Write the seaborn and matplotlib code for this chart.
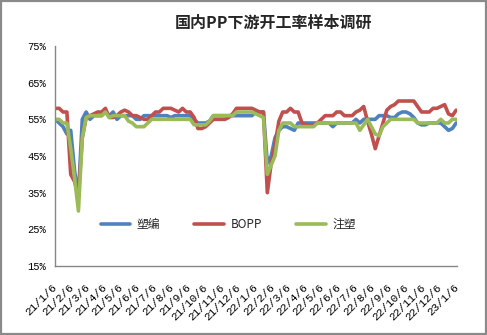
import matplotlib
matplotlib.use("Agg")
import matplotlib.pyplot as plt
from matplotlib.patches import Rectangle
import pandas as pd
import seaborn as sns

# Weekly operating-rate survey (%), starting 2021-01-06
start_date = "2021-01-06"
n_weeks = 105

suobian = [
    55, 54, 53, 51, 52, 41, 34, 55, 57, 55,
    56, 56, 56, 57, 56, 57, 55, 56, 56, 56,
    56, 55, 55, 56, 56, 56, 56, 56, 56, 56,
    55.5, 56, 56, 56, 56, 56, 55, 54, 54, 54,
    54.5, 56, 56, 56, 56, 56, 56, 56, 56, 56,
    56, 56, 57, 57, 57, 43, 45, 50, 52, 53,
    53, 52.5, 52, 54, 54, 54, 54, 54, 54, 54,
    54, 54, 53, 54, 54, 54, 54, 54, 55, 54,
    55, 55, 55, 55, 56, 56, 56, 55.5, 55.5, 56.5,
    57, 57, 56.5, 55.5, 54, 53.5, 53.5, 54, 54, 54,
    54, 53, 52, 52.5, 54,
]

bopp = [
    58, 58, 57, 57, 40, 38, 34, 50, 55.5, 56,
    56.5, 57, 57, 58, 55.5, 55.5, 56, 57, 57.5, 57,
    56, 56, 55.5, 55, 55, 56, 57, 57, 58, 58,
    58, 57.5, 57, 58, 57, 57, 55.5, 52.5, 52.5, 53,
    54, 55, 55, 55, 55, 55.5, 56.5, 58, 58, 58,
    58, 58, 57.5, 57, 57, 35, 43, 48, 54.5, 57,
    57, 58, 57, 57, 54, 53.5, 53.5, 53.5, 54, 55,
    56, 56, 56, 57, 57, 56, 56, 56, 57, 57.5,
    58.5, 54.5, 51, 47, 50.5, 54, 57.5, 58.5, 59, 60,
    60, 60, 60, 60, 58.5, 57, 57, 57, 58, 58,
    58.5, 59, 56.5, 56, 57.5,
]

zhusu = [
    55, 55, 54, 54, 47, 39, 30, 50, 55.5, 56,
    56, 56, 56, 57, 55.5, 56, 56, 56, 56, 54.5,
    54, 53, 53, 53, 54, 55, 55, 55, 55, 55,
    55, 55, 55, 55, 55, 55, 53.5, 53.5, 53.5, 53.5,
    54.5, 56, 56, 56, 56, 56, 56, 57, 57, 57,
    57, 57, 56.5, 56, 55.5, 40, 42.5, 45, 52, 54,
    54, 54, 53, 53, 53, 53, 53, 53, 54, 54,
    54, 54, 54, 54, 54, 54, 54, 54, 54, 52,
    53.5, 55, 53, 51, 50.5, 53, 54, 55, 55, 55,
    55, 55, 55, 55, 54, 54, 54, 54, 54, 54,
    55, 54, 54, 55, 55,
]

series_names = ["塑编", "BOPP", "注塑"]
series_colors = ["#4F81BD", "#C0504D", "#9BBB59"]
y_ticks = [15, 25, 35, 45, 55, 65, 75]
title_text = "国内PP下游开工率样本调研"

dates = pd.date_range(start_date, periods=n_weeks, freq="7D")
month_ticks = pd.date_range(start_date, "2023-01-06", freq=pd.DateOffset(months=1))
month_labels = [f"{d.year % 100}/{d.month}/{d.day}" for d in month_ticks]

df = pd.concat(
    [
        pd.DataFrame({"date": dates, "rate": vals, "series": name})
        for name, vals in zip(series_names, [suobian, bopp, zhusu])
    ],
    ignore_index=True,
)

sns.set_theme(style="white")
plt.rcParams["font.family"] = ["Noto Sans CJK SC", "DejaVu Sans"]

W, H = 487, 335
fig = plt.figure(figsize=(W / 100, H / 100), dpi=100)
ax = fig.add_axes([55.3 / W, 1 - 266 / H, (457.3 - 55.3) / W, (266 - 46) / H])

sns.lineplot(
    data=df, x="date", y="rate", hue="series",
    hue_order=series_names, palette=series_colors,
    linewidth=2.6, ax=ax, legend=True,
)

ax.set_xlim(month_ticks[0], month_ticks[-1])
ax.set_ylim(y_ticks[0], y_ticks[-1])
ax.set_yticks(y_ticks)
ax.set_yticklabels([f"{v}%" for v in y_ticks])
ax.set_xticks(month_ticks)
ax.set_xticklabels(month_labels)
ax.set_xlabel("")
ax.set_ylabel("")

axis_gray = "#868686"
for side in ["top", "right"]:
    ax.spines[side].set_visible(False)
for side in ["left", "bottom"]:
    ax.spines[side].set_color(axis_gray)
    ax.spines[side].set_linewidth(1.0)

ax.tick_params(axis="both", direction="in", length=3.6, width=1.0,
               color=axis_gray, labelcolor="black")
ax.tick_params(axis="y", pad=6.5, labelsize=7.5)
ax.tick_params(axis="x", pad=14.5, labelsize=8)

for lab in ax.get_xticklabels():
    lab.set_rotation(45)
    lab.set_rotation_mode("anchor")
    lab.set_ha("right")
    lab.set_va("center")
    lab.set_family(["Liberation Mono", "DejaVu Sans"])
for lab in ax.get_yticklabels():
    lab.set_family(["Liberation Mono", "DejaVu Sans"])

handles, labels = ax.get_legend_handles_labels()
leg = ax.legend(
    handles, labels, ncol=3, frameon=False, loc="center",
    bbox_to_anchor=(0.43, 0.19), fontsize=8.5,
    handlelength=2.5, handletextpad=0.55, columnspacing=2.9,
)
for line in leg.get_lines():
    line.set_linewidth(2.6)

fig.text(273 / W, 1 - 23 / H, title_text, ha="center", va="center",
         fontsize=11.5, fontweight="bold",
         family=["Noto Sans CJK SC", "DejaVu Sans"])

fig.patches.append(Rectangle((0.0015, 0.002), 0.997, 0.996, transform=fig.transFigure,
                             fill=False, edgecolor="#8a8a8a", linewidth=1.6))

fig.savefig("out.png", dpi=100, facecolor="white")
